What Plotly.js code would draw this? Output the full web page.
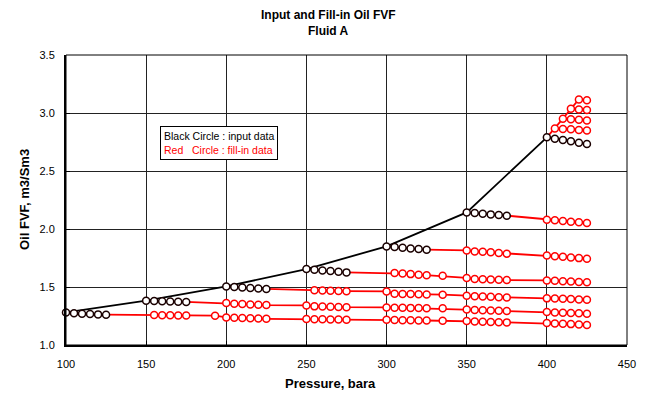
<!DOCTYPE html>
<html><head><meta charset="utf-8">
<script src="https://cdn.plot.ly/plotly-3.0.1.min.js"></script>
<style>html,body{margin:0;padding:0;background:#fff}#chart{width:656px;height:399px}</style>
</head><body><div id="chart"></div>
<script>
// Saturated (bubble point) curve - input data
const pSat = [100,150,200,250,300,350,400];
const boSat = [1.281,1.382,1.505,1.655,1.850,2.143,2.790];

// Undersaturated input rows (black circles)
const inP100 = [100,105,110,115,120,125];
const inB100 = [1.281,1.273,1.270,1.267,1.264,1.261];
const inP150 = [150,155,160,165,170,175];
const inB150 = [1.382,1.379,1.377,1.375,1.373,1.371];
const inP200 = [200,205,210,215,220,225];
const inB200 = [1.505,1.500,1.495,1.491,1.487,1.483];
const inP250 = [250,255,260,265,270,275];
const inB250 = [1.655,1.649,1.643,1.637,1.631,1.626];
const inP300 = [300,305,310,315,320,325];
const inB300 = [1.850,1.844,1.838,1.832,1.827,1.822];
const inP350 = [350,355,360,365,370,375];
const inB350 = [2.143,2.137,2.131,2.126,2.120,2.115];
const inP400 = [400,405,410,415,420,425];
const inB400 = [2.790,2.779,2.768,2.756,2.744,2.733];

// Fill-in rows (red circles)
const fillP100 = [150,155,160,165,170,175,193,200,205,210,215,220,225,250,255,260,265,270,275,300,305,310,315,320,325,335,350,355,360,365,370,375,400,405,410,415,420,425];
const fillB100 = [1.258,1.257,1.256,1.255,1.254,1.253,1.238,1.234,1.232,1.230,1.228,1.226,1.224,1.222,1.221,1.220,1.219,1.218,1.217,1.215,1.214,1.213,1.212,1.211,1.210,1.206,1.202,1.201,1.199,1.197,1.195,1.190,1.186,1.183,1.180,1.176,1.172];
const fillP150 = [193,200,205,210,215,220,225,250,255,260,265,270,275,300,305,310,315,320,325,335,350,355,360,365,370,375,400,405,410,415,420,425];
const fillB150 = [1.362,1.356,1.353,1.350,1.347,1.344,1.341,1.333,1.331,1.330,1.328,1.326,1.324,1.322,1.321,1.320,1.318,1.317,1.316,1.307,1.302,1.300,1.298,1.296,1.293,1.284,1.281,1.279,1.276,1.273,1.270];
const fillP200 = [250,255,260,265,270,275,300,305,310,315,320,325,335,350,355,360,365,370,375,400,405,410,415,420,425];
const fillB200 = [1.471,1.469,1.467,1.465,1.464,1.462,1.442,1.440,1.439,1.437,1.435,1.434,1.425,1.421,1.418,1.415,1.412,1.410,1.402,1.400,1.398,1.396,1.393,1.391];
const fillP250 = [300,305,310,315,320,325,335,350,355,360,365,370,375,400,405,410,415,420,425];
const fillB250 = [1.621,1.616,1.611,1.606,1.601,1.597,1.578,1.569,1.567,1.565,1.562,1.560,1.557,1.554,1.550,1.547,1.543,1.540];
const fillP300 = [335,350,355,360,365,370,375,400,405,410,415,420,425];
const fillB300 = [1.815,1.807,1.803,1.799,1.794,1.787,1.772,1.766,1.760,1.755,1.749,1.744];
const fillP350 = [400,405,410,415,420,425];
const fillB350 = [2.080,2.075,2.069,2.063,2.058,2.052];

// Fill-in above 400 bara
const fanP = [400,405,410,415,420];
const fanB = [2.790,2.867,2.951,3.037,3.117];
const fillP405 = [405,410,415,420,425];
const fillB405 = [2.867,2.863,2.859,2.854,2.850];
const fillP410 = [410,415,420,425];
const fillB410 = [2.951,2.946,2.941,2.936];
const fillP415 = [415,420,425];
const fillB415 = [3.037,3.031,3.026];
const fillP420 = [420,425];
const fillB420 = [3.117,3.109];

const xTicks = [100,150,200,250,300,350,400,450];
const yTicks = [1.0,1.5,2.0,2.5,3.0,3.5];

const RED = '#ff0000', BLK = '#000000';
const mk = c => ({symbol:'circle', size:7, color:'#ffffff', line:{color:c, width:1.5}});
const traces = [];

function rowPairs(P, B){ const n = Math.min(P.length, B.length); return [P.slice(P.length-n), B.slice(B.length-n)]; }

const inRows = [[inP100,inB100],[inP150,inB150],[inP200,inB200],[inP250,inB250],[inP300,inB300],[inP350,inB350]];
const fillRows = [[fillP100,fillB100],[fillP150,fillB150],[fillP200,fillB200],[fillP250,fillB250],[fillP300,fillB300],[fillP350,fillB350]];

fillRows.forEach((r,i)=>{
  const [P,B] = rowPairs(r[0], r[1]);
  const ip = inRows[i][0], ib = inRows[i][1];
  traces.push({x:[ip[ip.length-1]].concat(P), y:[ib[ib.length-1]].concat(B), mode:'lines', line:{color:RED,width:1.8}, cliponaxis:false, hoverinfo:'skip'});
  traces.push({x:P, y:B, mode:'markers', marker:mk(RED), cliponaxis:false});
});
traces.push({x:fanP, y:fanB, mode:'lines', line:{color:RED,width:1.8}, cliponaxis:false});
[[fillP405,fillB405],[fillP410,fillB410],[fillP415,fillB415],[fillP420,fillB420]].forEach(r=>{
  traces.push({x:r[0], y:r[1], mode:'lines+markers', line:{color:RED,width:1.8}, marker:mk(RED), cliponaxis:false});
});
traces.push({x:pSat, y:boSat, mode:'lines', line:{color:BLK,width:1.8}, cliponaxis:false});
inRows.concat([[inP400,inB400]]).forEach(r=>{
  traces.push({x:r[0], y:r[1], mode:'lines+markers', line:{color:BLK,width:1.5}, marker:mk('#1a0000'), cliponaxis:false});
});

const FONT = 'Arial, "Liberation Sans", sans-serif';
const px2y = py => (345-py)/290;
const px2x = px => (px-66)/561;
const layout = {
  width:656, height:399,
  margin:{l:66, r:29, t:55, b:54},
  paper_bgcolor:'#ffffff', plot_bgcolor:'#ffffff',
  showlegend:false,
  font:{family:FONT, color:'#000', size:11},
  xaxis:{range:[100,450], tickvals:xTicks, ticktext:xTicks.map(String), showgrid:true, gridcolor:'#222', gridwidth:1,
         zeroline:false, showline:true, linecolor:'#000', linewidth:2, ticks:'inside', ticklen:4, tickcolor:'#000',
         ticklabelstandoff:8, tickfont:{size:11, family:FONT}, fixedrange:true},
  yaxis:{range:[1,3.5], tickvals:yTicks, ticktext:yTicks.map(v=>v.toFixed(1)), showgrid:true, gridcolor:'#222', gridwidth:1,
         zeroline:false, showline:true, linecolor:'#000', linewidth:2, ticks:'inside', ticklen:4, tickcolor:'#000',
         ticklabelstandoff:7, tickfont:{size:11, family:FONT}, fixedrange:true},
  shapes:[{type:'rect', xref:'paper', yref:'paper', x0:0, x1:1, y0:0, y1:1, line:{color:'#000', width:1}}],
  annotations:[
    {text:'<b>Input and Fill-in Oil FVF</b>', xref:'paper', yref:'paper', x:px2x(328), y:px2y(15), xanchor:'center', yanchor:'middle', showarrow:false, font:{size:12, family:FONT, color:'#000'}},
    {text:'<b>Fluid A</b>', xref:'paper', yref:'paper', x:px2x(328), y:px2y(31), xanchor:'center', yanchor:'middle', showarrow:false, font:{size:12, family:FONT, color:'#000'}},
    {text:'<b>Pressure, bara</b>', xref:'paper', yref:'paper', x:px2x(330), y:px2y(383), xanchor:'center', yanchor:'middle', showarrow:false, font:{size:13, family:FONT, color:'#000'}},
    {text:'<b>Oil FVF, m3/Sm3</b>', xref:'paper', yref:'paper', x:px2x(24), y:0.5, xanchor:'center', yanchor:'middle', textangle:-90, showarrow:false, font:{size:13, family:FONT, color:'#000'}},
    {text:'Black Circle : input data<br><span style="color:#ff0000">Red\u00a0\u00a0\u00a0Circle : fill-in data</span>', xref:'paper', yref:'paper',
     x:px2x(160), y:px2y(126), xanchor:'left', yanchor:'top', align:'left', showarrow:false,
     bordercolor:'#000', borderwidth:1, borderpad:3, bgcolor:'#fff', font:{size:10.5, family:FONT, color:'#000'}}
  ]
};
Plotly.newPlot('chart', traces, layout, {displayModeBar:false, staticPlot:true});
</script></body></html>
